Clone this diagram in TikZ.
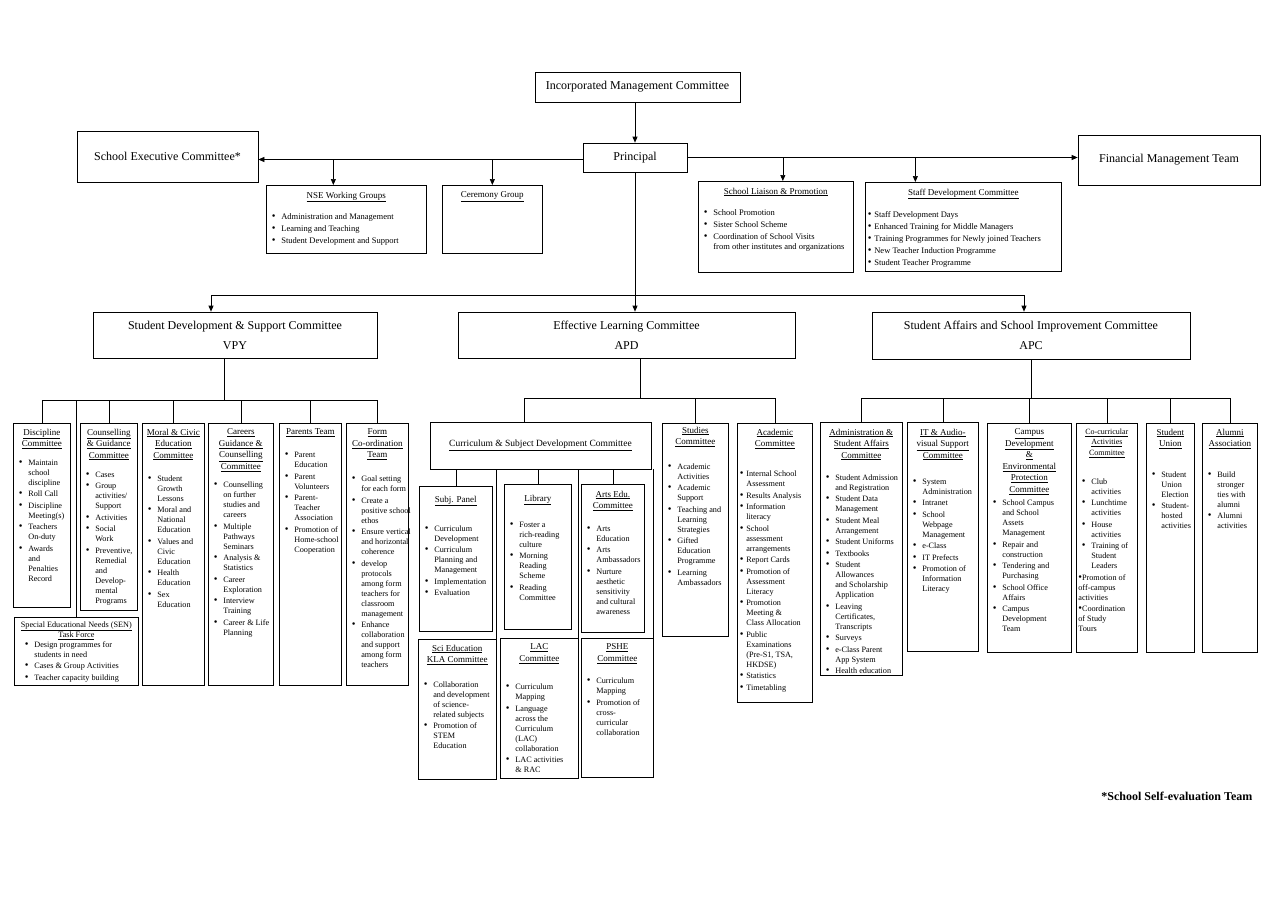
\documentclass[tikz,border=0pt]{standalone}
\usepackage{fontspec}
\setmainfont{Liberation Serif}
\usetikzlibrary{arrows.meta}

\newcommand\cbox[4][5.5]{\parbox[b][#3pt][t]{#2pt}{\rightskip=-6pt plus 1fil\vspace*{#1pt}#4}}
\newcommand\ttl[1]{{\centering\fontsize{9}{11.5}\selectfont#1\par}}
\newcommand\bul{{\fontsize{10.5}{10}\selectfont\textbullet}}
\newcommand\itm{\par\vspace{1.5pt}\hangindent=13pt\hangafter=1\noindent\hbox to 13pt{\hspace{3.5pt}\bul\hfil}\ignorespaces}
\newcommand\itt{\par\vspace{1.5pt}\hangindent=7pt\hangafter=1\noindent\hbox to 7pt{\hspace{0.5pt}\bul\hfil}\ignorespaces}

\begin{document}
\begin{tikzpicture}[x=1pt, y=-1pt, line width=0.7pt, >={Triangle[length=6pt,width=5pt]},
  box/.style={draw, align=center, inner sep=0pt, font=\fontsize{12}{20}\selectfont},
  lst/.style={draw, anchor=north west, inner xsep=2pt, inner ysep=0pt, font=\fontsize{8.5}{10.5}\selectfont},
  col/.style={lst, font=\fontsize{8.2}{10}\selectfont}]
\useasboundingbox (0,0) rectangle (1280,905);

% top level
\node[box, minimum width=205, minimum height=30] (imc) at (637.5,87) {Incorporated Management Committee};
\node[box, minimum width=104, minimum height=29] (prin) at (635,157.5) {Principal};
\node[box, minimum width=181, minimum height=51] (sec) at (167.5,156.5) {School Executive Committee*};
\node[box, minimum width=182, minimum height=50] (fmt) at (1169,160) {Financial Management Team};

\node[lst] (nse) at (266,185) {\cbox[6.5]{156}{68}{\ttl{\underline{NSE Working Groups}}\vspace{9pt}%
  \itm Administration and Management\itm Learning and Teaching\itm Student Development and Support}};
\node[lst] (cer) at (442,185) {\cbox[6.5]{96}{68}{\ttl{\underline{Ceremony Group}}}};
\node[lst] (slp) at (698,181) {\cbox[6.5]{151}{91}{\ttl{\underline{School Liaison \& Promotion}}\vspace{9pt}%
  \itm School Promotion\itm Sister School Scheme\itm Coordination of School Visits\\from other institutes and organizations}};
\node[lst] (sdc) at (865,182) {\cbox[6.5]{192}{89}{\ttl{\underline{Staff Development Committee}}\vspace{10pt}%
  \itt Staff Development Days\itt Enhanced Training for Middle Managers\itt Training Programmes for Newly joined Teachers%
  \itt New Teacher Induction Programme\itt Student Teacher Programme}};

\draw[->] (prin.north |- imc.south) -- (prin.north);
\draw[->] ([yshift=-2]prin.west) -- ([yshift=-2]sec.east |- prin.west);
\draw[->] (prin.east) -- (fmt.west |- prin.east);
\draw[->] ([xshift=-13,yshift=-2]nse.north |- prin.west) -- ([xshift=-13]nse.north);
\draw[->] ([yshift=-2]cer.north |- prin.west) -- (cer.north);
\draw[->] ([xshift=7]slp.north |- prin.east) -- ([xshift=7]slp.north);
\draw[->] ([xshift=-48]sdc.north |- prin.east) -- ([xshift=-48]sdc.north);

% committees
\node[box, minimum width=284, minimum height=46] (sdsc) at (235,335) {Student Development \& Support Committee\\VPY};
\node[box, minimum width=337, minimum height=46] (elc) at (626.5,335) {Effective Learning Committee\\APD};
\node[box, minimum width=318, minimum height=47] (sasic) at (1031,335.5) {Student Affairs and School Improvement Committee\\APC};

\coordinate (bus) at (635,295);
\coordinate (sdtop) at ([xshift=-24]sdsc.north);
\coordinate (satop) at ([xshift=-7]sasic.north);
\draw (prin.south) -- (bus);
\draw (sdtop |- bus) -- (satop |- bus);
\draw[->] (sdtop |- bus) -- (sdtop);
\draw[->] (bus) -- (elc.north -| bus);
\draw[->] (satop |- bus) -- (satop);

% student development & support
\node[col] (disc) at (13,423) {\cbox{53}{184}{\ttl{\underline{Discipline}\\\underline{Committee}}\vspace{7pt}%
  \itm Maintain\\school\\discipline\itm Roll Call\itm Discipline\\Meeting(s)\itm Teachers\\On-duty\itm Awards\\and\\Penalties\\Record}};
\node[col] (coun) at (80,423) {\cbox{53}{187}{\ttl{\underline{Counselling}\\\underline{\& Guidance}\\\underline{Committee}}\vspace{7.5pt}%
  \itm Cases\itm Group\\activities/\\Support\itm Activities\itm Social\\Work\itm Preventive,\\Remedial\\and\\Develop-\\mental\\Programs}};
\node[col] (sen) at (14,617) {\cbox[4.5]{120}{68}{{\centering\underline{Special Educational Needs (SEN)}\\\underline{Task Force}\par}\vspace{-2pt}%
  \leftskip=5pt\itm Design programmes for\\students in need\itm Cases \& Group Activities\itm Teacher capacity building}};
\node[col] (moral) at (142,423) {\cbox{58}{262}{\ttl{\underline{Moral \& Civic}\\\underline{Education}\\\underline{Committee}}\vspace{11.5pt}%
  \itm Student\\Growth\\Lessons\itm Moral and\\National\\Education\itm Values and\\Civic\\Education\itm Health\\Education\itm Sex\\Education}};
\node[col] (career) at (208,423) {\cbox{61}{262}{\ttl{\underline{Careers}\\\underline{Guidance \&}\\\underline{Counselling}\\\underline{Committee}}\vspace{7pt}%
  \itm Counselling\\on further\\studies and\\careers\itm Multiple\\Pathways\\Seminars\itm Analysis \&\\Statistics%
  \itm Career\\Exploration\itm Interview\\Training\itm Career \& Life\\Planning}};
\node[col] (parent) at (279,423) {\cbox{58}{262}{\ttl{\underline{Parents Team}}\vspace{11.5pt}%
  \itm Parent\\Education\itm Parent\\Volunteers\itm Parent-\\Teacher\\Association\itm Promotion of\\Home-school\\Cooperation}};
\node[col] (form) at (346,423) {\cbox{58}{262}{\ttl{\underline{Form}\\\underline{Co-ordination}\\\underline{Team}}\vspace{12.5pt}%
  \itm Goal setting\\for each form\itm Create a\\positive school\\ethos\itm Ensure vertical\\and horizontal\\coherence%
  \itm develop\\protocols\\among form\\teachers for\\classroom\\management\itm Enhance\\collaboration\\and support\\among form\\teachers}};

\coordinate (sdj) at ([xshift=-11]sdsc.south);
\coordinate (sdb) at ([yshift=-42]sdj);
\draw (sdj) -- (sdb);
\draw (disc.north |- sdb) -- (form.north |- sdb);
\foreach \n in {disc,sen,coun,moral,career,parent,form}
  \draw (\n.north |- sdb) -- (\n.north);

% effective learning
\node[box, minimum width=221, minimum height=47, font=\fontsize{9.5}{11}\selectfont] (cur) at (540.5,445.5) {\underline{Curriculum \& Subject Development Committee}};
\node[col] (subj) at (419,486) {\cbox[9.5]{69}{145}{\ttl{\underline{Subj. Panel}}\vspace{17.5pt}%
  \itm Curriculum\\Development\itm Curriculum\\Planning and\\Management\itm Implementation\itm Evaluation}};
\node[col] (lib) at (504,484) {\cbox[10.5]{63}{145}{\ttl{\underline{Library}}\vspace{14.5pt}%
  \itm Foster a\\rich-reading\\culture\itm Morning\\Reading\\Scheme\itm Reading\\Committee}};
\node[col] (arts) at (581,484) {\cbox[6.5]{59}{148}{\ttl{\underline{Arts Edu.}\\\underline{Committee}}\vspace{11pt}%
  \itm Arts\\Education\itm Arts\\Ambassadors\itm Nurture\\aesthetic\\sensitivity\\and cultural\\awareness}};
\node[col] (sci) at (418,639) {\cbox{74}{140}{\ttl{\underline{Sci Education}\\\underline{KLA Committee}}\vspace{13pt}%
  \itm Collaboration\\and development\\of science-\\related subjects\itm Promotion of\\STEM\\Education}};
\node[col] (lac) at (500,638) {\cbox{74}{140}{\ttl{\underline{LAC}\\\underline{Committee}}\vspace{17pt}%
  \itm Curriculum\\Mapping\itm Language\\across the\\Curriculum\\(LAC)\\collaboration\itm LAC activities\\\& RAC}};
\node[col] (pshe) at (581,638) {\cbox{68}{139}{\ttl{\underline{PSHE}\\\underline{Committee}}\vspace{11pt}%
  \itm Curriculum\\Mapping\itm Promotion of\\cross-\\curricular\\collaboration}};
\node[col] (studies) at (662,423) {\cbox[3.5]{62}{213}{\ttl{\underline{Studies}\\\underline{Committee}}\vspace{13pt}%
  \itm Academic\\Activities\itm Academic\\Support\itm Teaching and\\Learning\\Strategies\itm Gifted\\Education\\Programme\itm Learning\\Ambassadors}};
\node[col] (acad) at (737,423) {\cbox{71}{279}{\ttl{\underline{Academic}\\\underline{Committee}}\vspace{18.5pt}%
  \itt Internal School\\Assessment\itt Results Analysis\itt Information\\literacy\itt School\\assessment\\arrangements%
  \itt Report Cards\itt Promotion of\\Assessment\\Literacy\itt Promotion\\Meeting \&\\Class Allocation%
  \itt Public\\Examinations\\(Pre-S1, TSA,\\HKDSE)\itt Statistics\itt Timetabling}};

\coordinate (elj) at ([xshift=14]elc.south);
\coordinate (elb) at ([yshift=-40]elj);
\coordinate (curtop) at ([xshift=-16]cur.north);
\draw (elj) -- (elb);
\draw (curtop |- elb) -- (acad.north |- elb);
\draw (curtop |- elb) -- (curtop);
\foreach \n in {studies,acad}
  \draw (\n.north |- elb) -- (\n.north);
\foreach \n in {subj,lib,arts}
  \draw (\n.north |- cur.south) -- (\n.north);
\foreach \n in {sci,lac,pshe}
  \draw (\n.north east |- cur.south) -- (\n.north east);

% student affairs & school improvement
\node[col] (admin) at (820,422) {\cbox[6.5]{78}{253}{\ttl{\underline{Administration \&}\\\underline{Student Affairs}\\\underline{Committee}}\vspace{10.5pt}%
  \itm Student Admission\\and Registration\itm Student Data\\Management\itm Student Meal\\Arrangement\itm Student Uniforms%
  \itm Textbooks\itm Student\\Allowances\\and Scholarship\\Application\itm Leaving\\Certificates,\\Transcripts%
  \itm Surveys\itm e-Class Parent\\App System\itm Health education}};
\node[col] (it) at (907,422) {\cbox[6.5]{67}{229}{\ttl{\underline{IT \& Audio-}\\\underline{visual Support}\\\underline{Committee}}\vspace{14.5pt}%
  \itm System\\Administration\itm Intranet\itm School\\Webpage\\Management\itm e-Class\itm IT Prefects\itm Promotion of\\Information\\Literacy}};
\node[col] (campus) at (987,423) {\cbox{80}{229}{\ttl{\underline{Campus}\\\underline{Development}\\\underline{\&}\\\underline{Environmental}\\\underline{Protection}\\\underline{Committee}}\vspace{2pt}%
  \itm School Campus\\and School\\Assets\\Management\itm Repair and\\construction\itm Tendering and\\Purchasing%
  \itm School Office\\Affairs\itm Campus\\Development\\Team}};
\node[col] (cca) at (1076,423) {\cbox{57}{229}{{\centering\fontsize{8}{10.5}\selectfont\underline{Co-curricular}\\\underline{Activities}\\\underline{Committee}\par}\vspace{17.5pt}%
  \itm Club\\activities\itm Lunchtime\\activities\itm House\\activities\itm Training of\\Student\\Leaders%
  \par\vspace{1.5pt}\noindent\bul Promotion of\\off-campus\\activities\par\vspace{1.5pt}\noindent\bul Coordination\\of Study\\Tours}};
\node[col] (su) at (1146,423) {\cbox{44}{229}{\ttl{\underline{Student}\\\underline{Union}}\vspace{19pt}%
  \itm Student\\Union\\Election\itm Student-\\hosted\\activities}};
\node[col] (alumni) at (1202,423) {\cbox{51}{229}{\ttl{\underline{Alumni}\\\underline{Association}}\vspace{19pt}%
  \itm Build\\stronger\\ties with\\alumni\itm Alumni\\activities}};

\coordinate (saj) at (sasic.south);
\coordinate (sab) at ([yshift=-39]saj);
\draw (saj) -- (sab);
\draw (admin.north |- sab) -- (alumni.north |- sab);
\foreach \n in {admin,it,campus,cca,su,alumni}
  \draw (\n.north |- sab) -- (\n.north);

\node[anchor=east, font=\bfseries\fontsize{12}{14}\selectfont] (note) at (1256,796) {*School Self-evaluation Team};
\end{tikzpicture}
\end{document}
